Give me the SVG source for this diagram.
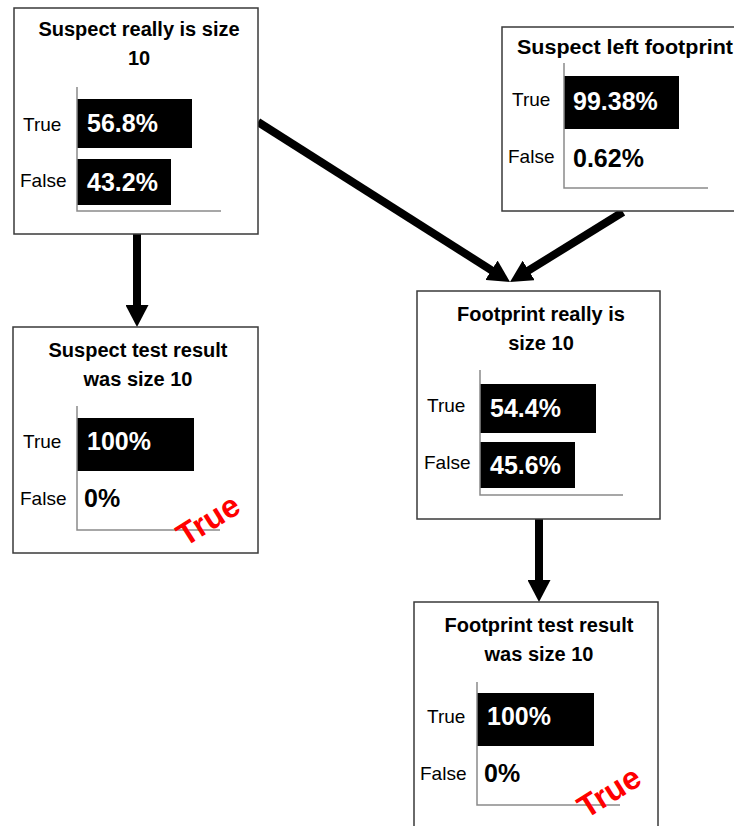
<svg xmlns="http://www.w3.org/2000/svg" width="734" height="826" viewBox="0 0 734 826">
  <style>
    .box { fill: #ffffff; stroke: #3a3a3a; stroke-width: 1.5; }
    .axis { stroke: #8a8a8a; stroke-width: 1.5; fill: none; }
    .bar { fill: #000000; }
    .title { font-family: "Liberation Sans", Arial, sans-serif; font-weight: bold; font-size: 20px; fill: #000; text-anchor: middle; }
    .lbl { font-family: "Liberation Sans", Arial, sans-serif; font-size: 19px; fill: #000; }
    .val { font-family: "Liberation Sans", Arial, sans-serif; font-weight: bold; font-size: 25px; }
    .on { fill: #ffffff; }
    .off { fill: #000000; }
    .stamp { font-family: "Liberation Sans", Arial, sans-serif; font-weight: bold; font-size: 32px; fill: #ff0000; text-anchor: middle; }
    .edge { stroke: #000; stroke-width: 8; fill: none; marker-end: url(#head); }
  </style>
  <defs>
    <marker id="head" markerUnits="userSpaceOnUse" viewBox="0 0 22 23" refX="10" refY="11.5" markerWidth="22" markerHeight="23" orient="auto">
      <path d="M0,0 L22,11.5 L0,23 z" fill="#000"/>
    </marker>
  </defs>

  <rect width="734" height="826" fill="#ffffff"/>

  <!-- connectors -->
  <g id="connectors">
    <line class="edge" x1="137" y1="234" x2="137" y2="315"/>
    <line class="edge" x1="258" y1="122" x2="499.9" y2="275.6"/>
    <line class="edge" x1="623" y1="212" x2="520.2" y2="275.7"/>
    <line class="edge" x1="539" y1="519" x2="539" y2="590"/>
  </g>

  <!-- Suspect really is size 10 -->
  <g id="suspect-size">
    <rect class="box" x="14" y="8" width="244" height="226"/>
    <text class="title" x="139" y="36">Suspect really is size</text>
    <text class="title" x="139" y="65">10</text>
    <rect class="bar" x="77" y="99" width="115" height="49"/>
    <rect class="bar" x="77" y="159" width="94" height="46"/>
    <path class="axis" d="M77,87 V211 H221"/>
    <text class="lbl" x="23" y="131">True</text>
    <text class="lbl" x="20" y="187">False</text>
    <text class="val on" x="87" y="132">56.8%</text>
    <text class="val on" x="87" y="191">43.2%</text>
  </g>

  <!-- Suspect left footprint -->
  <g id="left-footprint">
    <rect class="box" x="502" y="27" width="246" height="184"/>
    <text class="title" x="625" y="54" textLength="216" lengthAdjust="spacingAndGlyphs">Suspect left footprint</text>
    <rect class="bar" x="564" y="76" width="115" height="53"/>
    <path class="axis" d="M564,63 V188 H708"/>
    <text class="lbl" x="512" y="106">True</text>
    <text class="lbl" x="508" y="163">False</text>
    <text class="val on" x="573" y="110">99.38%</text>
    <text class="val off" x="573" y="167">0.62%</text>
  </g>

  <!-- Suspect test result was size 10 -->
  <g id="suspect-test">
    <rect class="box" x="13" y="327" width="245" height="226"/>
    <text class="title" x="138" y="357">Suspect test result</text>
    <text class="title" x="138" y="386">was size 10</text>
    <rect class="bar" x="77" y="418" width="117" height="53"/>
    <path class="axis" d="M77,406 V530 H220"/>
    <text class="lbl" x="23" y="448">True</text>
    <text class="lbl" x="20" y="505">False</text>
    <text class="val on" x="87" y="450">100%</text>
    <text class="val off" x="84" y="507">0%</text>
    <text class="stamp" x="208" y="531" transform="rotate(-32 208 520)">True</text>
  </g>

  <!-- Footprint really is size 10 -->
  <g id="footprint-size">
    <rect class="box" x="417" y="291" width="243" height="228"/>
    <text class="title" x="541" y="321">Footprint really is</text>
    <text class="title" x="541" y="350">size 10</text>
    <rect class="bar" x="480" y="384" width="116" height="49"/>
    <rect class="bar" x="480" y="442" width="95" height="46"/>
    <path class="axis" d="M480,370 V495 H623"/>
    <text class="lbl" x="427" y="412">True</text>
    <text class="lbl" x="424" y="469">False</text>
    <text class="val on" x="490" y="417">54.4%</text>
    <text class="val on" x="490" y="474">45.6%</text>
  </g>

  <!-- Footprint test result was size 10 -->
  <g id="footprint-test">
    <rect class="box" x="414" y="602" width="244" height="240"/>
    <text class="title" x="539" y="632">Footprint test result</text>
    <text class="title" x="539" y="661">was size 10</text>
    <rect class="bar" x="477" y="693" width="117" height="53"/>
    <path class="axis" d="M477,682 V805 H620"/>
    <text class="lbl" x="427" y="723">True</text>
    <text class="lbl" x="420" y="780">False</text>
    <text class="val on" x="487" y="725">100%</text>
    <text class="val off" x="484" y="782">0%</text>
    <text class="stamp" x="609" y="803" transform="rotate(-32 609 792)">True</text>
  </g>
</svg>
